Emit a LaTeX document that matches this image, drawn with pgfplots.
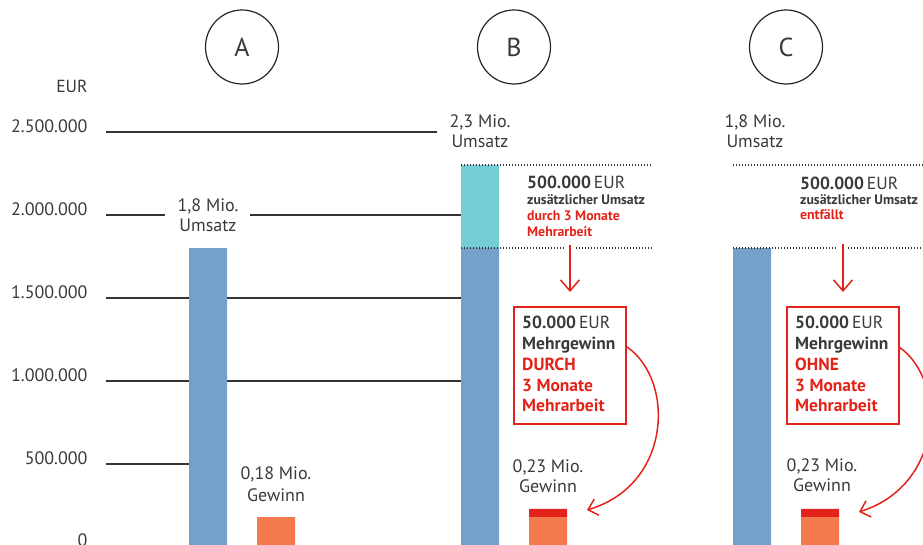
\documentclass[border=0pt]{standalone}
\usepackage{pgfplots}
\pgfplotsset{compat=1.18}
\usepackage{fontspec}
\setmainfont{PT Sans}
\usetikzlibrary{arrows.meta}
\definecolor{cblue}{HTML}{73A1CA}
\definecolor{ccyan}{HTML}{72CDD4}
\definecolor{corange}{HTML}{F47A4D}
\definecolor{cred}{HTML}{E2231A}
\definecolor{ctext}{HTML}{3A3A3A}
\definecolor{cline}{HTML}{333333}
\newcommand{\fs}[1]{\fontsize{#1}{#1}\selectfont}
\begin{document}
\begin{tikzpicture}[x=1pt,y=1pt]
\useasboundingbox (0,0) rectangle (923,545);
\begin{axis}[
  at={(0,0)}, anchor=south west,
  scale only axis, width=923pt, height=545pt,
  xmin=0, xmax=923, ymin=12048, ymax=3295181,
  hide axis,
  ybar stacked, bar width=38pt,
  clip=true,
]
% blue: Umsatz 1,8 Mio.
\addplot[fill=cblue, draw=none] coordinates {(208,1800000) (276,0) (480,1800000) (548,0) (752,1800000) (820,0)};
% cyan: zusaetzlicher Umsatz
\addplot[fill=ccyan, draw=none] coordinates {(208,0) (276,0) (480,500000) (548,0) (752,0) (820,0)};
% orange: Gewinn 0,18 Mio.
\addplot[fill=corange, draw=none] coordinates {(208,0) (276,180000) (480,0) (548,180000) (752,0) (820,180000)};
% red: Mehrgewinn 0,05 Mio.
\addplot[fill=cred, draw=none] coordinates {(208,0) (276,0) (480,0) (548,50000) (752,0) (820,50000)};
% gridlines
\draw[cline, line width=1.2pt] (axis cs:106,2500000) -- (axis cs:437,2500000);
\draw[cline, line width=1.2pt] (axis cs:106,2000000) -- (axis cs:165,2000000);
\draw[cline, line width=1.2pt] (axis cs:250,2000000) -- (axis cs:461,2000000);
\draw[cline, line width=1.2pt] (axis cs:106,1500000) -- (axis cs:189,1500000);
\draw[cline, line width=1.2pt] (axis cs:227,1500000) -- (axis cs:461,1500000);
\draw[cline, line width=1.2pt] (axis cs:106,1000000) -- (axis cs:189,1000000);
\draw[cline, line width=1.2pt] (axis cs:227,1000000) -- (axis cs:461,1000000);
\draw[cline, line width=1.2pt] (axis cs:106,500000) -- (axis cs:189,500000);
% tick labels
\node[anchor=base east, text=ctext, font=\fs{18}] at (axis cs:91,2494000) {2.500.000};
\node[anchor=base east, text=ctext, font=\fs{18}] at (axis cs:91,1994000) {2.000.000};
\node[anchor=base east, text=ctext, font=\fs{18}] at (axis cs:91,1494000) {1.500.000};
\node[anchor=base east, text=ctext, font=\fs{18}] at (axis cs:91,994000) {1.000.000};
\node[anchor=base east, text=ctext, font=\fs{18}] at (axis cs:91,494000) {500.000};
\node[anchor=base east, text=ctext, font=\fs{18}] at (axis cs:91,0) {0};
\end{axis}
% dotted lines
\draw[cline, line width=1.3pt, dash pattern=on 1.2pt off 1.8pt] (461,380) -- (652,380);
\draw[cline, line width=1.3pt, dash pattern=on 1.2pt off 1.8pt] (461,297) -- (564,297);
\draw[cline, line width=1.3pt, dash pattern=on 1.2pt off 1.8pt] (576,297) -- (652,297);
\draw[cline, line width=1.3pt, dash pattern=on 1.2pt off 1.8pt] (733,380) -- (923,380);
\draw[cline, line width=1.3pt, dash pattern=on 1.2pt off 1.8pt] (733,297) -- (837,297);
\draw[cline, line width=1.3pt, dash pattern=on 1.2pt off 1.8pt] (848,297) -- (923,297);
% circles
\foreach \cx/\l in {242/A,514/B,786/C}{
  \draw[black!85, line width=1.2pt] (\cx,498) ellipse (36.5 and 37);
  \node[text=ctext, font=\fs{26}] at (\cx,498) {\l};
}
% EUR
\node[anchor=base east, text=ctext, font=\fs{17.5}] at (91,452) {EUR};
% value labels
\node[anchor=base, text=ctext, font=\fs{18}] at (208,333) {1,8 Mio.};
\node[anchor=base, text=ctext, font=\fs{18}] at (208,313) {Umsatz};
\node[anchor=base, text=ctext, font=\fs{18}] at (276,65) {0,18 Mio.};
\node[anchor=base, text=ctext, font=\fs{18}] at (276,43) {Gewinn};
\node[anchor=base, text=ctext, font=\fs{18}] at (480,417) {2,3 Mio.};
\node[anchor=base, text=ctext, font=\fs{18}] at (480,397) {Umsatz};
\node[anchor=base, text=ctext, font=\fs{18}] at (755,417) {1,8 Mio.};
\node[anchor=base, text=ctext, font=\fs{18}] at (755,397) {Umsatz};
\node[anchor=base, text=ctext, font=\fs{18}] at (548,72) {0,23 Mio.};
\node[anchor=base, text=ctext, font=\fs{18}] at (548,52) {Gewinn};
\node[anchor=base, text=ctext, font=\fs{18}] at (822,73) {0,23 Mio.};
\node[anchor=base, text=ctext, font=\fs{18}] at (822,53) {Gewinn};
% B side text
\node[anchor=base west, inner sep=0pt, text=ctext, font=\fs{17.5}] at (527,356) {\textbf{500.000}\,EUR};
\node[anchor=base west, inner sep=0pt, text=ctext, font=\bfseries\fs{13.8}] at (527,340) {zusätzlicher Umsatz};
\node[anchor=base west, inner sep=0pt, text=cred, font=\bfseries\fs{13.8}] at (527,324) {durch 3 Monate};
\node[anchor=base west, inner sep=0pt, text=cred, font=\bfseries\fs{13.8}] at (527,308) {Mehrarbeit};
% C side text
\node[anchor=base west, inner sep=0pt, text=ctext, font=\fs{17.5}] at (800,355) {\textbf{500.000}\,EUR};
\node[anchor=base west, inner sep=0pt, text=ctext, font=\bfseries\fs{13.8}] at (800,340) {zusätzlicher Umsatz};
\node[anchor=base west, inner sep=0pt, text=cred, font=\bfseries\fs{13.8}] at (800,325) {entfällt};
% straight arrows
\draw[cred, line width=1.5pt, -{Straight Barb[length=11pt,width=19pt]}] (570,300) -- (570,253);
\draw[cred, line width=1.5pt, -{Straight Barb[length=11pt,width=19pt]}] (843,301) -- (843,253);
% boxes
\draw[cred, line width=2.2pt] (514,238) rectangle (626,121);
\draw[cred, line width=2.2pt] (787,238) rectangle (899,121);
\foreach \bx/\w in {522/DURCH,795/OHNE}{
  \node[anchor=base west, inner sep=0pt, text=ctext, font=\fs{17.5}] at (\bx,216) {\textbf{50.000}\,EUR};
  \node[anchor=base west, inner sep=0pt, text=ctext, font=\bfseries\fs{17.5}] at (\bx,195) {Mehrgewinn};
  \node[anchor=base west, inner sep=0pt, text=cred, font=\bfseries\fs{17.5}] at (\bx,174) {\w};
  \node[anchor=base west, inner sep=0pt, text=cred, font=\bfseries\fs{17.5}] at (\bx,153) {3 Monate};
  \node[anchor=base west, inner sep=0pt, text=cred, font=\bfseries\fs{17.5}] at (\bx,133) {Mehrarbeit};
}
% curved arrows
\draw[cred, line width=1.5pt, -{Straight Barb[length=9pt,width=17pt]}] (627,198) .. controls (675,165) and (672,60) .. (587,35);
\draw[cred, line width=1.5pt, -{Straight Barb[length=9pt,width=17pt]}] (899,198) .. controls (947,165) and (944,60) .. (859,33);
\end{tikzpicture}
\end{document}
